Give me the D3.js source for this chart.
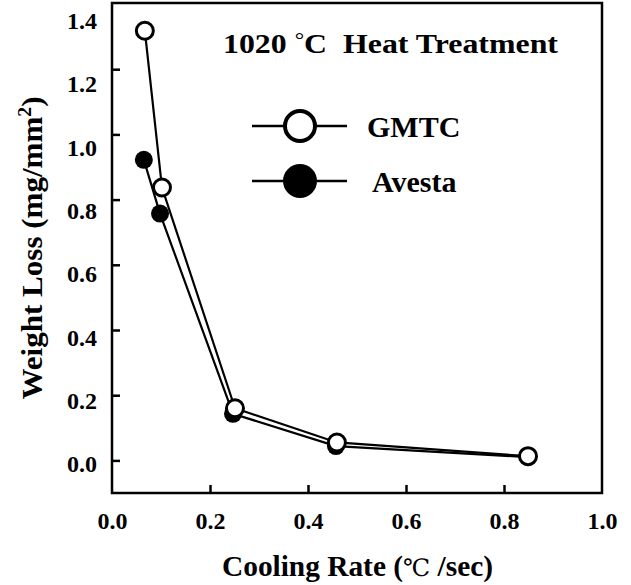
<!DOCTYPE html>
<html lang="en">
<head>
<meta charset="utf-8">
<title>Weight loss vs cooling rate</title>
<script src="https://cdn.jsdelivr.net/npm/d3@7"></script>
<style>
  body { margin: 0; background: #fff; }
  text { font-family: "Liberation Serif", "Times New Roman", serif; font-weight: bold; fill: #000; }
</style>
</head>
<body>
<script>
// data
var coolingGMTC = [0.067, 0.102, 0.251, 0.459, 0.849];
var lossGMTC    = [1.318, 0.837, 0.160, 0.055, 0.013];
var coolingAvesta = [0.065, 0.098, 0.247, 0.457, 0.849];
var lossAvesta    = [0.922, 0.757, 0.143, 0.044, 0.010];
var xTicks = [0.0, 0.2, 0.4, 0.6, 0.8, 1.0];
var yTicks = [0.0, 0.2, 0.4, 0.6, 0.8, 1.0, 1.2, 1.4];
var seriesNames = ["GMTC", "Avesta"];

var w = 631, h = 585;
var margin = {top: 4, right: 29, bottom: 92, left: 112};

var svg = d3.select("body").append("svg")
  .attr("width", w)
  .attr("height", h);

var x = d3.scaleLinear().domain([0, 1.0]).range([margin.left, w - margin.right]);
var y = d3.scaleLinear().domain([-0.1, 1.4]).range([h - margin.bottom, margin.top]);
// the y labels in the original sit on a slightly tighter spacing than the ticks
var yLab = d3.scaleLinear().domain([0, 1.4]).range([464, 21]);

//tick marks, pointing inward
var gx = svg.append("g")
  .attr("transform", "translate(0," + (h - margin.bottom) + ")")
  .call(d3.axisBottom(x).tickValues(xTicks.slice(1, -1)).tickSizeInner(-8).tickSizeOuter(0).tickFormat(""));
var gy = svg.append("g")
  .attr("transform", "translate(" + margin.left + ",0)")
  .call(d3.axisLeft(y).tickValues(yTicks.slice(0, -1)).tickSizeInner(-8).tickSizeOuter(0).tickFormat(""));

//tick labels
var gxl = svg.append("g")
  .attr("transform", "translate(0," + (h - margin.bottom) + ")")
  .call(d3.axisBottom(x).tickValues(xTicks).tickSize(0).tickPadding(19).tickFormat(d3.format(".1f")));
var gyl = svg.append("g")
  .attr("transform", "translate(" + margin.left + ",0)")
  .call(d3.axisLeft(yLab).tickValues(yTicks).tickSize(0).tickPadding(15).tickFormat(d3.format(".1f")));

[gx, gy, gxl, gyl].forEach(function(g) {
  g.select(".domain").remove();
  g.selectAll("line").attr("stroke", "#000").attr("stroke-width", 2.5);
  g.selectAll("text").style("font-size", "24px");
});

//frame
svg.append("rect")
  .attr("x", x(0))
  .attr("y", y(1.4) - 1)
  .attr("width", x(1) - x(0))
  .attr("height", y(-0.1) - y(1.4) + 1)
  .attr("fill", "none")
  .attr("stroke", "#000")
  .attr("stroke-width", 2.5);

var line = d3.line()
  .x(function(d) { return x(d[0]); })
  .y(function(d) { return y(d[1]); });

var gmtc = d3.zip(coolingGMTC, lossGMTC);
var avesta = d3.zip(coolingAvesta, lossAvesta);

svg.append("path").datum(gmtc).attr("d", line)
  .attr("fill", "none").attr("stroke", "#000").attr("stroke-width", 2.2);
svg.append("path").datum(avesta).attr("d", line)
  .attr("fill", "none").attr("stroke", "#000").attr("stroke-width", 2.2);

svg.selectAll("circle.av").data(avesta).enter().append("circle")
  .attr("class", "av")
  .attr("cx", function(d) { return x(d[0]); })
  .attr("cy", function(d) { return y(d[1]); })
  .attr("r", 9)
  .attr("fill", "#000");

svg.selectAll("circle.gm").data(gmtc).enter().append("circle")
  .attr("class", "gm")
  .attr("cx", function(d) { return x(d[0]); })
  .attr("cy", function(d) { return y(d[1]); })
  .attr("r", 8.5)
  .attr("fill", "#fff")
  .attr("stroke", "#000")
  .attr("stroke-width", 3);

//title inside plot
var tt = svg.append("text")
  .attr("x", 223).attr("y", 53)
  .attr("textLength", 335)
  .attr("lengthAdjust", "spacingAndGlyphs")
  .style("font-size", "27px")
  .style("white-space", "pre");
tt.append("tspan").text("1020 ");
tt.append("tspan").attr("dy", -6).style("font-weight", "normal").style("font-size", "20px").text("°");
tt.append("tspan").attr("dy", 6).text("C  Heat Treatment");

//legend
var legY = [126, 181];
seriesNames.forEach(function(name, i) {
  var g = svg.append("g");
  g.append("line")
    .attr("x1", 252).attr("x2", 347)
    .attr("y1", legY[i]).attr("y2", legY[i])
    .attr("stroke", "#000").attr("stroke-width", 2.5);
  if (i == 0) {
    g.append("circle").attr("cx", 300).attr("cy", legY[i]).attr("r", 15)
      .attr("fill", "#fff").attr("stroke", "#000").attr("stroke-width", 4);
  } else {
    g.append("circle").attr("cx", 300).attr("cy", legY[i]).attr("r", 17)
      .attr("fill", "#000");
  }
  g.append("text")
    .attr("x", i == 0 ? 367 : 372).attr("y", legY[i] + 11)
    .style("font-size", "30px")
    .text(name);
});

//axis titles
var xt = svg.append("text")
  .attr("x", 222).attr("y", 576)
  .attr("textLength", 271)
  .attr("lengthAdjust", "spacingAndGlyphs")
  .style("font-size", "29px")
  .style("white-space", "pre");
xt.append("tspan").text("Cooling Rate (");
xt.append("tspan").style("font-family", "'DejaVu Serif', serif").style("font-weight", "normal").style("font-size", "24px").text("℃");
xt.append("tspan").text(" /sec)");

var yt = svg.append("text")
  .attr("transform", "translate(42," + 248 + ") rotate(-90)")
  .attr("text-anchor", "middle")
  .attr("textLength", 303)
  .attr("lengthAdjust", "spacingAndGlyphs")
  .style("font-size", "30px");
yt.append("tspan").text("Weight Loss (mg/mm");
yt.append("tspan").attr("dy", -11).style("font-size", "19px").text("2");
yt.append("tspan").attr("dy", 11).text(")");
</script>
</body>
</html>
